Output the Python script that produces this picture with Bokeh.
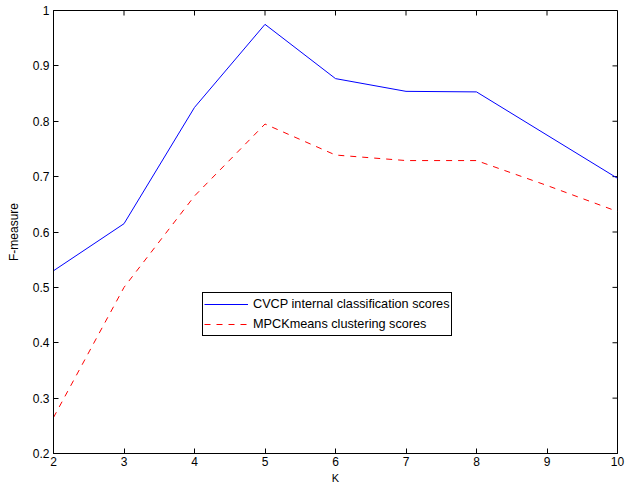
import math
from bokeh.plotting import figure
from bokeh.models import Range1d, FixedTicker
from bokeh.embed import file_html
from bokeh.resources import INLINE

K = [2, 3, 4, 5, 6, 7, 8, 9, 10]
cvcp_scores = [0.530, 0.615, 0.825, 0.975, 0.877, 0.854, 0.853, 0.775, 0.697]
mpck_scores = [0.265, 0.500, 0.665, 0.795, 0.739, 0.729, 0.729, 0.684, 0.637]
x_ticks = [2, 3, 4, 5, 6, 7, 8, 9, 10]
y_ticks = [0.2, 0.3, 0.4, 0.5, 0.6, 0.7, 0.8, 0.9, 1.0]
y_tick_labels = ["0.2", "0.3", "0.4", "0.5", "0.6", "0.7", "0.8", "0.9", "1"]

FONT = "Liberation Sans"
X_MIN, X_MAX = 2, 10
Y_MIN, Y_MAX = 0.2, 1.0

p = figure(width=633, height=486, output_backend="svg", toolbar_location=None,
           x_range=Range1d(X_MIN, X_MAX), y_range=Range1d(Y_MIN, Y_MAX),
           min_border_left=53, min_border_right=16, min_border_top=10, min_border_bottom=32)
p.background_fill_color = "white"
p.border_fill_color = "white"
p.outline_line_color = "black"
p.outline_line_width = 1
p.grid.visible = False

xa = p.xaxis[0]
ya = p.yaxis[0]
xa.ticker = FixedTicker(ticks=x_ticks)
ya.ticker = FixedTicker(ticks=y_ticks)
ya.major_label_overrides = {t: l for t, l in zip(y_ticks, y_tick_labels)}
for ax in (xa, ya):
    ax.axis_line_color = "black"
    ax.major_tick_line_color = "black"
    ax.minor_tick_line_color = None
    ax.major_tick_in = 5
    ax.major_tick_out = 0
    ax.major_label_text_font = FONT
    ax.major_label_text_font_size = "12px"
    ax.major_label_text_color = "black"
    ax.axis_label_text_font = FONT
    ax.axis_label_text_font_style = "normal"
    ax.axis_label_text_color = "black"
xa.major_label_standoff = 3
ya.major_label_standoff = 4
xa.axis_label = "K"
ya.axis_label = "F-measure"
xa.axis_label_text_font_size = "11px"
ya.axis_label_text_font_size = "12px"
xa.axis_label_standoff = 3
ya.axis_label_standoff = 9

# inward ticks on the top and right edges of the box
p.ray(x=x_ticks, y=[Y_MAX] * len(x_ticks), length=5, length_units="screen",
      angle=-math.pi / 2, line_color="black", line_width=1)
p.ray(x=[X_MAX] * len(y_ticks), y=y_ticks, length=5, length_units="screen",
      angle=math.pi, line_color="black", line_width=1)

p.line(K, cvcp_scores, line_color="blue", line_width=1,
       legend_label="CVCP internal classification scores")
p.line(K, mpck_scores, line_color="red", line_width=1, line_dash="6 6",
       legend_label="MPCKmeans clustering scores")

legend = p.legend[0]
legend.location = (149, 117)
legend.border_line_color = "black"
legend.border_line_width = 1
legend.border_line_alpha = 1
legend.background_fill_color = "white"
legend.background_fill_alpha = 1
legend.label_text_font = FONT
legend.label_text_font_size = "12.7px"
legend.label_text_color = "black"
legend.padding = 1
legend.margin = 0
legend.spacing = 0
legend.label_height = 20
legend.glyph_height = 20
legend.glyph_width = 44
legend.label_standoff = 5

open("out.html", "w").write(file_html(p, INLINE))
